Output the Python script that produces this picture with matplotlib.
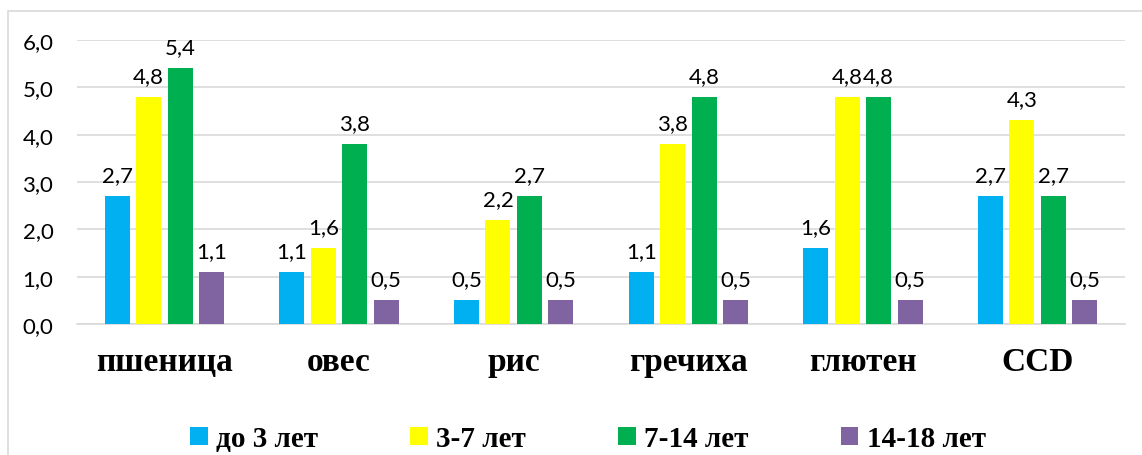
import matplotlib.pyplot as plt
import numpy as np
from matplotlib.patches import Rectangle

# данные: доля (%) по возрастным группам
categories = ['пшеница', 'овес', 'рис', 'гречиха', 'глютен', 'CCD']
groups = ['до 3 лет', '3-7 лет', '7-14 лет', '14-18 лет']
vals_0_3 = [2.7, 1.1, 0.5, 1.1, 1.6, 2.7]
vals_3_7 = [4.8, 1.6, 2.2, 3.8, 4.8, 4.3]
vals_7_14 = [5.4, 3.8, 2.7, 4.8, 4.8, 2.7]
vals_14_18 = [1.1, 0.5, 0.5, 0.5, 0.5, 0.5]
colors = ['#00B0F0', '#FFFF00', '#00B050', '#8064A2']

series = [vals_0_3, vals_3_7, vals_7_14, vals_14_18]

fig = plt.figure(figsize=(11.42, 4.56), dpi=100)
ax = fig.add_axes([77 / 1142, 1 - 325 / 456, 1048 / 1142, 284 / 456])

# рамка области диаграммы
fig.patches.append(Rectangle((8 / 1142, -0.1), 1.2, (456 - 12) / 456 + 0.1,
                             transform=fig.transFigure, fill=False,
                             edgecolor='#D9D9D9', linewidth=1.2))

x = np.arange(len(categories))
width = 0.143
step = 0.18
for i, (vals, col, name) in enumerate(zip(series, colors, groups)):
    pos = x + (i - 1.5) * step
    bars = ax.bar(pos, vals, width=width, color=col, label=name, zorder=3)
    for b, v in zip(bars, vals):
        ax.annotate(f'{v:.1f}'.replace('.', ','),
                    (b.get_x() + b.get_width() / 2, v),
                    xytext=(0, 8), textcoords='offset points',
                    ha='center', va='bottom', fontsize=16, family='Lato')

ax.set_xlim(-0.5, len(categories) - 0.5)
ax.set_ylim(0, 6)
ax.set_yticks(np.arange(0, 7, 1))
ax.set_yticklabels([f'{t:.1f}'.replace('.', ',') for t in np.arange(0, 7, 1)],
                   fontsize=16, family='Lato')
ax.yaxis.grid(True, color='#D9D9D9', linewidth=1.2, zorder=0)
ax.set_xticks(x)
ax.set_xticklabels(categories, fontsize=24, family='Liberation Serif',
                   fontweight='bold')
ax.tick_params(axis='x', length=0, pad=16)
ax.tick_params(axis='y', length=0, pad=17)
for s in ['top', 'right', 'left']:
    ax.spines[s].set_visible(False)
ax.spines['bottom'].set_color('#D9D9D9')
ax.spines['bottom'].set_linewidth(1.2)

fig.legend(loc='center', bbox_to_anchor=(588 / 1142, 1 - 440 / 456), ncol=4,
           frameon=False, handlelength=0.6, handleheight=0.6,
           handletextpad=0.3, columnspacing=3.15,
           prop={'family': 'Liberation Serif', 'weight': 'bold', 'size': 21})

fig.savefig('out.png', dpi=100)
